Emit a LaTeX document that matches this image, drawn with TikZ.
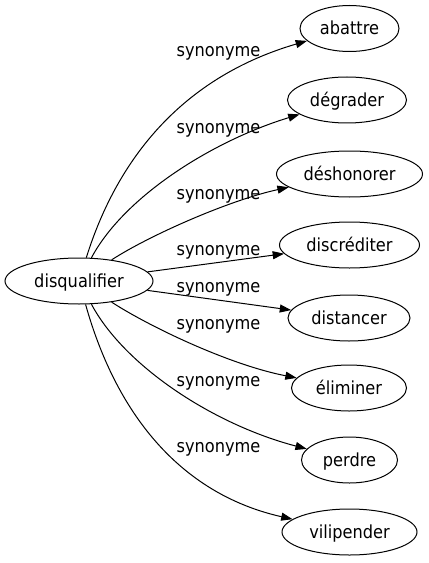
\documentclass[tikz,border=0pt]{standalone}
\usepackage{fontspec}
\setmainfont{DejaVu Sans Condensed}
\usetikzlibrary{shapes.geometric, arrows.meta}
\tikzset{
    word/.style = {ellipse, draw = black, line width = 0.75pt, inner sep = 0pt, minimum height = 34.5pt, text height = 12pt, text depth = 2.55pt},
    syn/.style = {anchor = base, inner sep = 0pt},
    rel/.style = {draw = black, line width = 0.75pt, -{Triangle[length = 8.5pt, width = 6pt]}}
}
\begin{document}
\begin{tikzpicture}[x = 0.75pt, y = -0.75pt, font = \fontsize{13.5}{16}\selectfont]
        \useasboundingbox (0, 0) rectangle (428, 563);
        \node [word, minimum width = 111pt] (0) at (79, 281) {disqualifier};
        \node [word, minimum width = 74.25pt] (1) at (349.5, 28.5) {abattre};
        \node [word, minimum width = 89.25pt] (2) at (347, 100) {dégrader};
        \node [word, minimum width = 109.5pt] (3) at (349.5, 174) {déshonorer};
        \node [word, minimum width = 105pt] (4) at (349.5, 245) {discréditer};
        \node [word, minimum width = 91.5pt] (5) at (349, 318) {distancer};
        \node [word, minimum width = 86.25pt] (6) at (349, 388) {éliminer};
        \node [word, minimum width = 72pt] (7) at (349.5, 460) {perdre};
        \node [word, minimum width = 101.25pt] (8) at (349.5, 532) {vilipender};
        \node [syn] (s1) at (218.5, 57) {synonyme};
        \node [syn] (s2) at (218.5, 133) {synonyme};
        \node [syn] (s3) at (218.5, 199) {synonyme};
        \node [syn] (s4) at (218.5, 255) {synonyme};
        \node [syn] (s5) at (218.5, 292) {synonyme};
        \node [syn] (s6) at (218.5, 329) {synonyme};
        \node [syn] (s7) at (218.5, 386) {synonyme};
        \node [syn] (s8) at (218.5, 452) {synonyme};
        \draw [rel] (0) .. controls (120, 150) and (190, 75) .. (1);
        \draw [rel] (0) .. controls (125, 195) and (215, 140) .. (2);
        \draw [rel] (0) .. controls (150, 235) and (230, 200) .. (3);
        \draw [rel] (0) -- (4);
        \draw [rel] (0) -- (5);
        \draw [rel] (0) .. controls (150, 327) and (230, 365) .. (6);
        \draw [rel] (0) .. controls (125, 367) and (215, 425) .. (7);
        \draw [rel] (0) .. controls (118, 420) and (185, 495) .. (8);
    \end{tikzpicture}
\end{document}
